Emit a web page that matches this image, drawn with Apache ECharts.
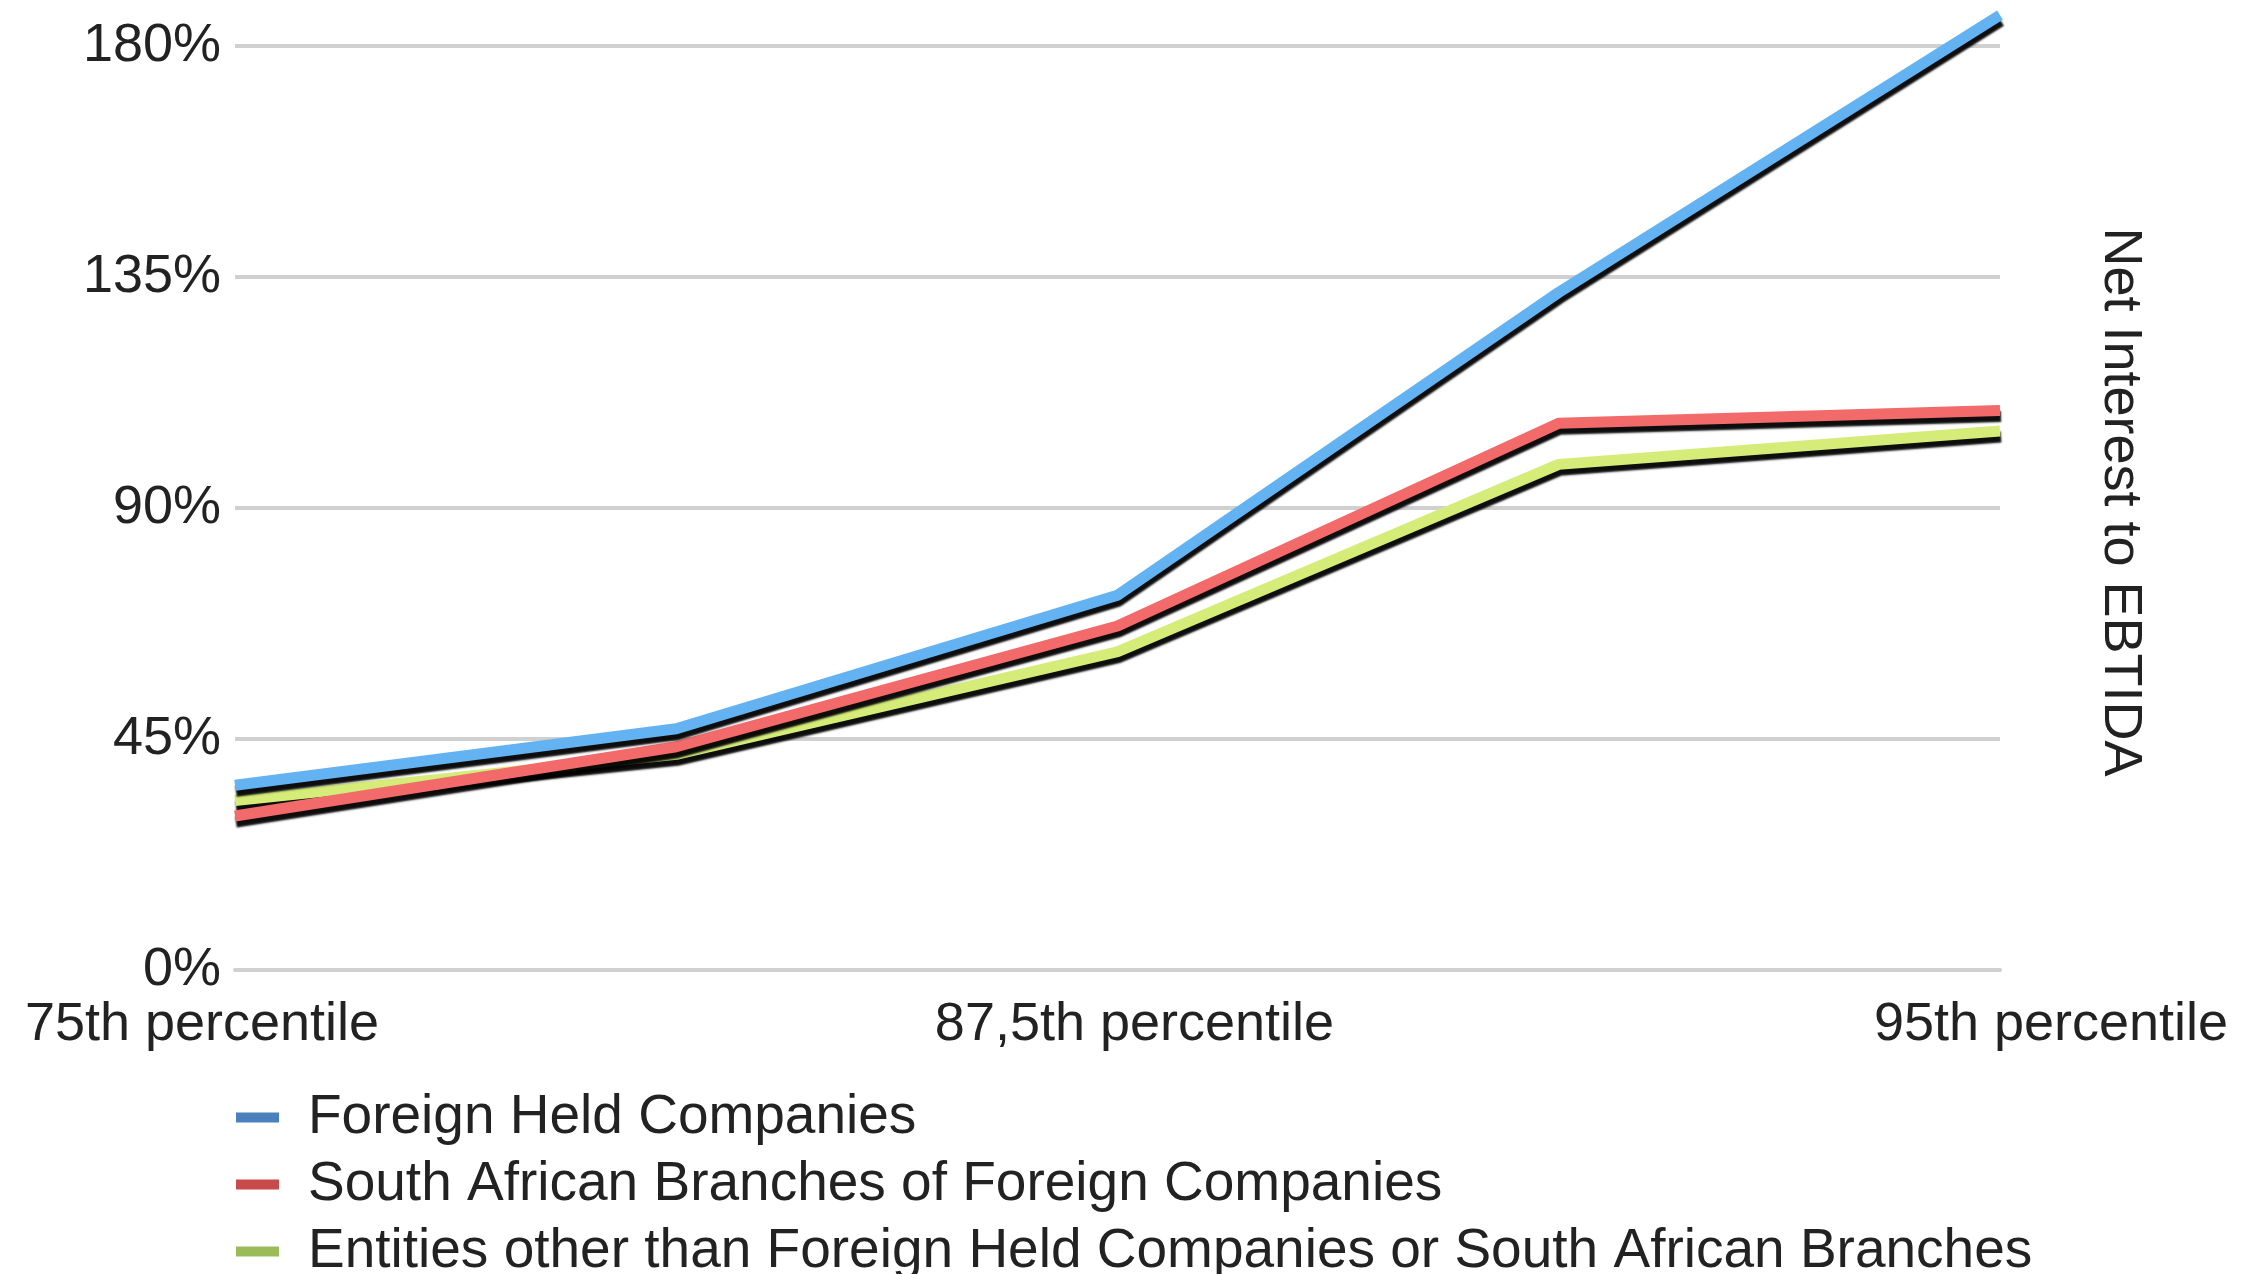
<!DOCTYPE html>
<html>
<head>
<meta charset="utf-8">
<script src="https://cdn.jsdelivr.net/npm/echarts@6/dist/echarts.min.js"></script>
<style>
  html, body { margin: 0; padding: 0; background: #ffffff; }
  #chart { width: 2264px; height: 1274px; }
</style>
</head>
<body>
<div id="chart"></div>
<script>
const categories = ['75th percentile', '', '87,5th percentile', '', '95th percentile'];
const seriesNames = [
  'Foreign Held Companies',
  'South African Branches of Foreign Companies',
  'Entities other than Foreign Held Companies or South African Branches'
];
const foreignHeld = [36, 47, 73, 132, 186];
const saBranches = [30, 43.5, 67, 106.5, 109];
const otherEntities = [33, 42, 62, 98.5, 105];
const yMin = 0, yMax = 180, yStep = 45;
const axisTitle = 'Net Interest to EBTIDA';

const FONT = "'Helvetica Neue', Helvetica, 'Liberation Sans', Arial, sans-serif";
const TXT = '#222222';
const lineColors = ['#63b3f2', '#f26a6a', '#d6ec78'];
const swatchColors = ['#4a81bd', '#c84b4b', '#9bbb59'];
const labelPads = [[0, 66, 0, 0], [0, 0, 0, 0], [0, 0, 0, 34], [0, 0, 0, 0], [0, 0, 0, 102]];

const chart = echarts.init(document.getElementById('chart'), null, { renderer: 'canvas' });

function mkSeries(name, data, idx, z) {
  return {
    name: name,
    type: 'line',
    data: data,
    showSymbol: false,
    symbol: 'none',
    clip: false,
    z: z,
    itemStyle: { color: swatchColors[idx] },
    lineStyle: {
      color: lineColors[idx],
      width: 11,
      shadowColor: 'rgba(0,0,0,0.95)',
      shadowBlur: 2,
      shadowOffsetX: 1,
      shadowOffsetY: 6
    },
    emphasis: { disabled: true }
  };
}

chart.setOption({
  backgroundColor: '#ffffff',
  animation: false,
  grid: { left: 235, right: 264, top: 46, bottom: 304, containLabel: false },
  xAxis: {
    type: 'category',
    boundaryGap: false,
    data: categories.map((c, i) => ({ value: c, textStyle: { padding: labelPads[i] } })),
    axisLine: { show: true, lineStyle: { color: '#d0d0d0', width: 4 } },
    axisTick: { show: false },
    axisLabel: {
      interval: 0,
      margin: 28,
      color: TXT,
      fontFamily: FONT,
      fontSize: 54,
      lineHeight: 54
    },
    splitLine: { show: false }
  },
  yAxis: {
    type: 'value',
    min: yMin,
    max: yMax,
    interval: yStep,
    axisLine: { show: false },
    axisTick: { show: false },
    axisLabel: {
      margin: 14,
      color: TXT,
      fontFamily: FONT,
      fontSize: 54,
      formatter: v => v + '%'
    },
    splitLine: { show: true, lineStyle: { color: '#d0d0d0', width: 4 } }
  },
  legend: {
    type: 'plain',
    orient: 'vertical',
    left: 231,
    top: 1085,
    height: 400,
    icon: 'rect',
    itemWidth: 43,
    itemHeight: 10,
    itemGap: 12,
    selectedMode: false,
    textStyle: {
      color: TXT,
      fontFamily: FONT,
      fontSize: 55,
      lineHeight: 50,
      padding: [0, 0, 0, 24]
    },
    data: seriesNames.map((n, i) => ({ name: n, itemStyle: { color: swatchColors[i] } }))
  },
  graphic: [{
    type: 'text',
    x: 2120,
    y: 502,
    rotation: -Math.PI / 2,
    style: {
      text: axisTitle,
      fill: TXT,
      font: '54px ' + FONT,
      align: 'center',
      verticalAlign: 'middle'
    }
  }],
  series: [
    mkSeries(seriesNames[0], foreignHeld, 0, 4),
    mkSeries(seriesNames[1], saBranches, 1, 3),
    mkSeries(seriesNames[2], otherEntities, 2, 2)
  ]
});
</script>
</body>
</html>
